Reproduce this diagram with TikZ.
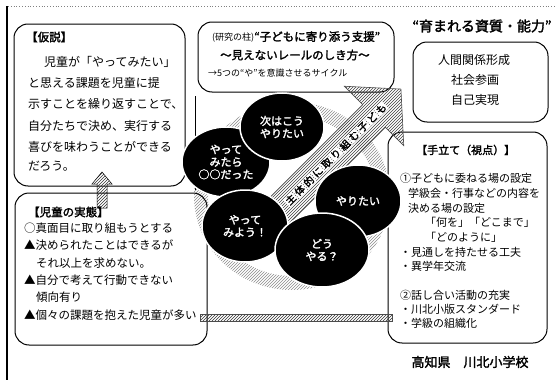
\documentclass[tikz,border=0pt]{standalone}
\usepackage{fontspec}
\setmainfont{Noto Sans CJK JP}[AutoFakeBold=2]
\usetikzlibrary{shapes.geometric,patterns}
\begin{document}
\begin{tikzpicture}[x=1pt,y=-1pt,
  box/.style={draw=black, line width=1pt, rounded corners=14pt},
  ttl/.style={anchor=west, inner sep=0pt, font=\bfseries\fontsize{11.5}{13}\selectfont},
  txt/.style={anchor=west, inner sep=0pt, font=\fontsize{12}{14}\selectfont},
  stxt/.style={anchor=west, inner sep=0pt, font=\fontsize{11.5}{13}\selectfont},
  rtxt/.style={anchor=west, inner sep=0pt, font=\fontsize{11}{13}\selectfont},
  ctxt/.style={inner sep=0pt, font=\fontsize{12}{14}\selectfont},
  achar/.style={fill=white, inner sep=0.8pt, rotate=45, font=\bfseries\fontsize{10}{11}\selectfont},
  bub/.style={ellipse, fill=black, draw=white, line width=1.5pt, text=white, align=center,
    font=\bfseries\fontsize{11}{12.5}\selectfont, inner sep=0pt},
  hatch/.style={pattern=north east lines, pattern color=black!80}]

\useasboundingbox (0,0) rectangle (555,380);
\fill[white] (0,0) rectangle (555,380);

% page frame
\draw[black!50, dotted, line width=0.8pt] (8,6) -- (555,6);
\draw[line width=1.2pt] (7,6) -- (7,380);

% grey cycle ring
\path[pattern=north east lines, pattern color=black!45, even odd rule]
  (292,196) ellipse [x radius=98, y radius=94] (292,196) ellipse [x radius=84, y radius=80];

% boxes
\draw[box] (14,24) rectangle (185,186);
\draw[box] (198,22) rectangle (394,92);
\draw[box] (413,42) rectangle (548,122);
\draw[box] (388,132) rectangle (547,343);
\draw[box] (15,193) rectangle (207,345);
\draw[line width=0.8pt] (195,96) -- (195,190);
\path[hatch, draw=black!70, line width=0.4pt] (200,314) rectangle (392,321);

% up arrow between left boxes
\path[hatch, draw=black, line width=0.5pt] (97,208) -- (97,184) -- (92,184) -- (102,172)
  -- (112,184) -- (107,184) -- (107,208) -- cycle;

% top-left text
\node[ttl] (tl0) at (26,37) {【仮説】};
\node[txt] (tl1) at (44,62) {児童が「やってみたい」};
\node[txt] (tl2) at (28,83) {と思える課題を児童に提};
\node[txt] (tl3) at (28,104) {示すことを繰り返すことで、};
\node[txt] (tl4) at (28,126) {自分たちで決め、実行する};
\node[txt] (tl5) at (28,147) {喜びを味わうことができる};
\node[txt] (tl6) at (28,166) {だろう。};

% top-centre text
\node[anchor=west, inner sep=0pt] (tc1) at (212,37)
  {{\fontsize{9}{11}\selectfont (研究の柱)}{\bfseries\fontsize{11.5}{13}\selectfont “子どもに寄り添う支援”}};
\node[anchor=west, inner sep=0pt, font=\bfseries\fontsize{11.5}{13}\selectfont] (tc2) at (220,55) {～見えないレールのしき方～};
\node[anchor=west, inner sep=0pt, font=\fontsize{9}{11}\selectfont] (tc3) at (208,73) {→5つの“や”を意識させるサイクル};

% top-right
\node[inner sep=0pt, font=\bfseries\fontsize{14}{16}\selectfont] (tr0) at (482,26) {“育まれる資質・能力”};
\node[ctxt] (tr1) at (474,60) {人間関係形成};
\node[ctxt] (tr2) at (475,80) {社会参画};
\node[ctxt] (tr3) at (475,100) {自己実現};

% right box text
\node[anchor=west, inner sep=0pt, font=\bfseries\fontsize{11}{13}\selectfont] (r0) at (416,150) {【手立て（視点）】};
\node[rtxt] (r1) at (400,178) {①子どもに委ねる場の設定};
\node[rtxt] (r2) at (408,193) {学級会・行事などの内容を};
\node[rtxt] (r3) at (408,208) {決める場の設定};
\node[rtxt] (r4) at (425,222) {「何を」「どこまで」};
\node[rtxt] (r5) at (425,237) {「どのように」};
\node[rtxt] (r6) at (400,252) {・見通しを持たせる工夫};
\node[rtxt] (r7) at (400,266) {・異学年交流};
\node[rtxt] (r8) at (400,295) {②話し合い活動の充実};
\node[rtxt] (r9) at (400,309) {・川北小版スタンダード};
\node[rtxt] (r10) at (400,323) {・学級の組織化};

% bottom-left text
\node[ttl] (bl0) at (28,212) {【児童の実態】};
\node[stxt] (bl1) at (24,228) {○真面目に取り組もうとする};
\node[stxt] (bl2) at (24,245) {▲決められたことはできるが};
\node[stxt] (bl3) at (36,263) {それ以上を求めない。};
\node[stxt] (bl4) at (24,280) {▲自分で考えて行動できない};
\node[stxt] (bl5) at (36,297) {傾向有り};
\node[stxt] (bl6) at (24,315) {▲個々の課題を抱えた児童が多い};

% big diagonal arrow
\begin{scope}[shift={(268,222)}, rotate=45]
\path[pattern=north east lines, pattern color=black!75, draw=black!70, line width=0.6pt]
  (0,-16) -- (150,-16) -- (150,-42) -- (188,0) -- (150,42) -- (150,16) -- (0,16) -- cycle;
\foreach \ch [count=\i] in {主,体,的,に,取,り,組,む,子,ど,も}
  \node[achar] (ac\i) at ({32+(\i-1)*12.8},0) {\ch};
\end{scope}

% cycle bubbles
\node[bub, minimum width=88pt, minimum height=70pt] (c2) at (226,162) {やって\\みたら\\○○だった};
\node[bub, minimum width=84pt, minimum height=68pt] (c1) at (282,127) {次はこう\\やりたい};
\node[bub, minimum width=86pt, minimum height=72pt] (c3) at (245,226) {やって\\みよう！};
\node[bub, minimum width=86pt, minimum height=72pt] (c5) at (358,201) {やりたい};
\node[bub, minimum width=94pt, minimum height=74pt] (c4) at (322,250) {どう\\やる？};

% footer
\node[inner sep=0pt, font=\bfseries\fontsize{13}{15}\selectfont] (ft) at (470,362) {高知県　川北小学校};
\end{tikzpicture}
\end{document}
